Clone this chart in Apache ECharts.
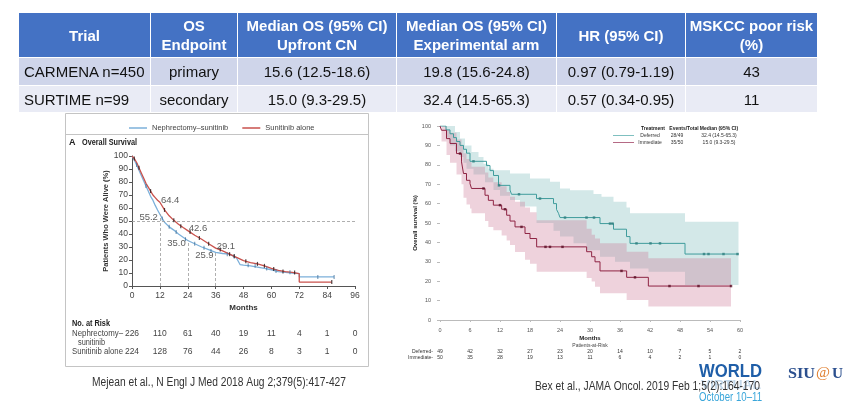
<!DOCTYPE html>
<html>
<head>
<meta charset="utf-8">
<script src="https://cdn.jsdelivr.net/npm/echarts@6/dist/echarts.min.js"></script>
<style>
  html, body { margin: 0; padding: 0; background: #fff; }
  #chart { position: absolute; left: 0; top: 0; width: 864px; height: 410px; }
  #tbl { position: absolute; left: 18px; top: 12px; border-collapse: collapse; table-layout: fixed;
         font-family: "Liberation Sans", Arial, sans-serif; font-size: 15px; color: #111; }
  #tbl th { background: #4472c4; color: #fff; font-weight: bold; height: 44px; line-height: 19px;
            border: 1px solid #fff; padding: 0; white-space: nowrap; }
  #tbl td { text-align: center; border: 1px solid #fff; height: 27px; padding: 0; white-space: nowrap; }
  #tbl td:first-child { text-align: left; padding-left: 5px; }
  #tbl tr.r1 td { background: #cfd5ea; }
  #tbl tr.r2 td { background: #e9ebf5; height: 26px; }
</style>
</head>
<body>
<div id="chart"></div>
<table id="tbl"></table>
<script>
// ---- table ----
const colWidths = [132, 87, 159, 160, 129, 132];
const tableHeader = [["Trial"], ["OS", "Endpoint"], ["Median OS (95% CI)", "Upfront CN"],
  ["Median OS (95% CI)", "Experimental arm"], ["HR (95% CI)"], ["MSKCC poor risk", "(%)"]];
const tableRows = [
  ["CARMENA n=450", "primary", "15.6 (12.5-18.6)", "19.8 (15.6-24.8)", "0.97 (0.79-1.19)", "43"],
  ["SURTIME n=99", "secondary", "15.0 (9.3-29.5)", "32.4 (14.5-65.3)", "0.57 (0.34-0.95)", "11"]
];

// ---- CARMENA (left) ----
const carmenaNephMonths = [0,1,2,3,4,5,6,7,8,9,10,11,12,14,16,18,20,22,24,27,30,33,36,39,42,45,46.5,48,51,54,57,60,63,66,69,72,72,87];
const carmenaNephSurv   = [100,97,93,89,85,81,77,73,69,66,62,58.5,55.2,49,45.5,43,40,37.5,35,32.5,30,28,25.9,25,24.5,21.5,16.5,16,15.5,14.5,13.5,12.5,11,10.5,10,9.5,7,7];
const carmenaSuniMonths = [0,1,2,3,4,5,6,7,8,9,10,11,12,14,16,18,20,22,24,27,30,33,36,39,42,45,48,51,54,57,60,63,66,69,72,72,86];
const carmenaSuniSurv   = [100,98,95,91,87,83,79,76,73,70,68,66,64.4,58.5,54,50.5,47.5,45,42.6,39,36,32.5,29.1,27,24.5,22,19.5,18,17,15.5,13.5,12,11,10.5,9.5,3,3];
const carmenaNephCensor = [[2,93],[6,77],[13,52],[16,45.5],[19,41.5],[23,36],[27,32.5],[31,29.5],[34,27],[41,24.5],[44,22.5],[50,16],[53,15.5],[58,13.5],[62,11.5],[68,10.5],[80,7],[87,7]];
const carmenaSuniCensor = [[1,98],[3,91],[8,73],[14,58.5],[18,50.5],[21,46],[25,41.5],[29,37],[33,32.5],[38,28],[42,24.5],[44,23],[49,19],[54,17],[57,15.5],[61,13],[65,11.2],[70,10.3],[86,3]];
const landmarkMonths = [12, 24, 36];
const landmarkNeph = [55.2, 35.0, 25.9];
const landmarkSuni = [64.4, 42.6, 29.1];
const carmenaRiskMonths = [0,12,24,36,48,60,72,84,96];
const carmenaRiskNeph = [226,110,61,40,19,11,4,1,0];
const carmenaRiskSuni = [224,128,76,44,26,8,3,1,0];

// ---- SURTIME (right) ----
const defMonths = [0,1.2,2,2.7,3.3,4,4.7,5.3,6,9.3,10,10.7,11.7,14,14.3,19.3,22.7,23.3,23.7,24,32,34.7,37.3,38,49,59.7];
const defSurv   = [100,98,96,94,92,90,88,86,81.8,79.6,77,74.5,69.4,67,64.8,62.6,60,57,55,52.8,49.7,46.8,43,39.5,34,34];
const immMonths = [0,0.3,1.3,2,3.3,4.3,4.7,5.3,6,6.3,9,9.67,10.67,12.33,13.33,14,15,17,18,19.33,29.33,30.33,31,32,37.33,41.67,58.2];
const immSurv   = [100,97.8,93.5,91,85.8,81.5,75.5,72,70.3,67.8,64.3,61.7,59.2,57.1,54,51,48,44.6,42,37.7,35.2,32.6,30,25.3,22,17.5,17.5];
const defBandUpperMonths = [0,3,4,5,6.3,7.7,8.7,9.7,10.7,14,18,22,24,26,30.7,32.3,34.7,37.3,38,49,59.7];
const defBandUpper       = [100,96.9,93.5,90,86.6,84,80.6,78,77.2,75.5,72.9,71.2,67.8,66.9,65,63.5,61,58,55,50.6,50.6];
const defBandLowerMonths = [0,1.2,2,3,4,4.7,5.3,6.7,9,10.7,12,14,16,19.3,22.7,24,26.7,29.3,32,35,38,41.7,49,59.7];
const defBandLower       = [100,94,90,87,84,81,78,75,71,67,64,61.8,58.5,50,46,43,39.5,36,32.6,30,26.6,24.9,18,18];
const immBandMonths = [0,0.3,1.3,2,3.3,4.3,4.7,5.3,6,6.3,9,9.67,10.67,12.33,13.33,14,15,17,18,19.33,29.33,30.33,31,32,37.33,41.67,58.2];
const immBandUpper  = [100,100,98,96.5,93,90,86,83,81.5,79,76,73.5,71,69,66,63.5,61,58,55.5,51.4,47,44,42,39.5,35.2,31.8,31.8];
const immBandLower  = [100,92,85,81,75,70,63,59.5,57.5,55,51,48,46.3,43.5,41,38.6,35,31,29,24.9,21.6,19.8,17.2,13.8,10.3,6.9,6.9];
const defCensor = [[6.7,81.8],[11.8,69.4],[15.8,64.8],[20,62.6],[25,52.8],[29.3,52.8],[30.8,52.8],[34,49.7],[34.5,49.7],[39.3,39.5],[42.1,39.5],[44,39.5],[52.8,34],[53.7,34],[56.7,34],[59.5,34]];
const immCensor = [[4,85.8],[8.7,67.8],[12,59.2],[13,57.1],[16.3,48],[21.1,37.7],[22,37.7],[24.5,37.7],[36.3,25.3],[39,22],[45.9,17.5],[51.7,17.5],[58.2,17.5]];
const surtimeRiskMonths = [0,6,12,18,24,30,36,42,48,54,60];
const surtimeRiskDef = [49,42,32,27,23,20,14,10,7,5,2];
const surtimeRiskImm = [50,35,28,19,13,11,6,4,2,1,0];

// build table
const tbl = document.getElementById('tbl');
let html = '<colgroup>' + colWidths.map(w => `<col style="width:${w}px">`).join('') + '</colgroup><tr>';
html += tableHeader.map(lines => `<th>${lines.join('<br>')}</th>`).join('') + '</tr>';
tableRows.forEach((row, i) => {
  html += `<tr class="r${i + 1}">` + row.map(c => `<td>${c}</td>`).join('') + '</tr>';
});
tbl.innerHTML = html;

const SANS = '"Liberation Sans", Arial, sans-serif';
const pairs = (xs, ys) => xs.map((x, i) => [x, ys[i]]);

const chart = echarts.init(document.getElementById('chart'), null, { renderer: 'canvas' });

function bandSeries(months, upper, lowerMonths, lower, color) {
  return {
    type: 'custom', xAxisIndex: 1, yAxisIndex: 1, silent: true, z: 1,
    data: [[0, 0]],
    renderItem: (params, api) => {
      const top = [], bot = [];
      months.forEach((m, i) => {
        const next = i + 1 < months.length ? months[i + 1] : m;
        top.push(api.coord([m, upper[i]]), api.coord([next, upper[i]]));
      });
      lowerMonths.forEach((m, i) => {
        const next = i + 1 < lowerMonths.length ? lowerMonths[i + 1] : m;
        bot.push(api.coord([m, lower[i]]), api.coord([next, lower[i]]));
      });
      return { type: 'polygon', shape: { points: top.concat(bot.reverse()) }, style: { fill: color } };
    }
  };
}

const dashed = { color: '#9a9a9a', type: [3, 2], width: 0.8 };

chart.setOption({
  animation: false,
  textStyle: { fontFamily: SANS },
  grid: [
    { left: 132, top: 156, width: 223, height: 130 },
    { left: 440, top: 126, width: 300, height: 194 }
  ],
  legend: {
    left: 124, top: 119, itemWidth: 18, itemHeight: 1.5, itemGap: 14, icon: 'rect',
    textStyle: { fontSize: 7.5, color: '#444', fontFamily: SANS },
    data: ['Nephrectomy–sunitinib', 'Sunitinib alone']
  },
  xAxis: [
    { gridIndex: 0, type: 'value', min: 0, max: 96, interval: 12,
      name: 'Months', nameLocation: 'middle', nameGap: 18,
      nameTextStyle: { fontWeight: 'bold', fontSize: 8, color: '#333' },
      axisLine: { lineStyle: { color: '#555' } }, axisTick: { length: 3, lineStyle: { color: '#555' } },
      axisLabel: { fontSize: 8.5, color: '#444', margin: 5 }, splitLine: { show: false } },
    { gridIndex: 1, type: 'value', min: 0, max: 60, interval: 6, offset: 2,
      name: 'Months', nameLocation: 'middle', nameGap: 13,
      nameTextStyle: { fontWeight: 'bold', fontSize: 6, color: '#222' },
      axisLine: { lineStyle: { color: '#bbb' } }, axisTick: { length: 2, lineStyle: { color: '#bbb' } },
      axisLabel: { fontSize: 5.5, color: '#555', margin: 5 }, splitLine: { show: false } }
  ],
  yAxis: [
    { gridIndex: 0, type: 'value', min: 0, max: 100, interval: 10,
      name: 'Patients Who Were Alive (%)', nameLocation: 'middle', nameGap: 22,
      nameTextStyle: { fontWeight: 'bold', fontSize: 7.5, color: '#333' },
      axisLine: { show: true, lineStyle: { color: '#555' } }, axisTick: { show: true, length: 3, lineStyle: { color: '#555' } },
      axisLabel: { fontSize: 8.5, color: '#444', margin: 4 }, splitLine: { show: false } },
    { gridIndex: 1, type: 'value', min: 0, max: 100, interval: 10, offset: 4,
      name: 'Overall survival (%)', nameLocation: 'middle', nameGap: 18,
      nameTextStyle: { fontWeight: 'bold', fontSize: 6, color: '#222' },
      axisLine: { show: false }, axisTick: { show: true, length: 3, lineStyle: { color: '#bbb' } },
      axisLabel: { fontSize: 5.5, color: '#555', margin: 5 }, splitLine: { show: false } }
  ],
  series: [
    { name: 'Nephrectomy–sunitinib', type: 'line', xAxisIndex: 0, yAxisIndex: 0, color: '#7cb0da',
      showSymbol: false, lineStyle: { width: 1.3 }, data: pairs(carmenaNephMonths, carmenaNephSurv), z: 3,
      markLine: {
        silent: true, symbol: 'none', label: { show: false }, lineStyle: dashed,
        data: [[{ coord: [0, 50] }, { coord: [96, 50] }]].concat(
          landmarkMonths.map((m, i) => [{ coord: [m, 0] }, { coord: [m, landmarkNeph[i]] }]))
      } },
    { name: 'Sunitinib alone', type: 'line', xAxisIndex: 0, yAxisIndex: 0, color: '#c9514c',
      showSymbol: false, lineStyle: { width: 1.3 }, data: pairs(carmenaSuniMonths, carmenaSuniSurv), z: 4 },
    { type: 'scatter', xAxisIndex: 0, yAxisIndex: 0, symbol: 'rect', symbolSize: [1, 4],
      itemStyle: { color: '#3d6f9a' }, data: carmenaNephCensor, z: 5 },
    { type: 'scatter', xAxisIndex: 0, yAxisIndex: 0, symbol: 'rect', symbolSize: [1.2, 4],
      itemStyle: { color: '#2a1a1a' }, data: carmenaSuniCensor, z: 5 },
    { type: 'scatter', xAxisIndex: 0, yAxisIndex: 0, symbolSize: 0, z: 6,
      data: pairs(landmarkMonths, landmarkNeph),
      label: { show: true, position: 'left', distance: 2, offset: [0, 3], fontSize: 9.5, color: '#333',
               formatter: p => p.value[1].toFixed(1) } },
    { type: 'scatter', xAxisIndex: 0, yAxisIndex: 0, symbolSize: 0, z: 6,
      data: pairs(landmarkMonths, landmarkSuni),
      label: { show: true, position: 'right', distance: 1, offset: [0, -2], fontSize: 9.5, color: '#333',
               formatter: p => p.value[1].toFixed(1) } },
    bandSeries(defBandUpperMonths, defBandUpper, defBandLowerMonths, defBandLower, 'rgba(110,180,180,0.30)'),
    bandSeries(immBandMonths, immBandUpper, immBandMonths, immBandLower, 'rgba(200,105,140,0.30)'),
    { type: 'line', step: 'end', xAxisIndex: 1, yAxisIndex: 1, color: '#3f9c9c', showSymbol: false,
      lineStyle: { width: 1 }, data: pairs(defMonths, defSurv), z: 3 },
    { type: 'line', step: 'end', xAxisIndex: 1, yAxisIndex: 1, color: '#8e2343', showSymbol: false,
      lineStyle: { width: 1 }, data: pairs(immMonths, immSurv), z: 3 },
    { type: 'scatter', xAxisIndex: 1, yAxisIndex: 1, symbol: 'rect', symbolSize: 2.5,
      itemStyle: { color: '#2f7f80' }, data: defCensor, z: 4 },
    { type: 'scatter', xAxisIndex: 1, yAxisIndex: 1, symbol: 'rect', symbolSize: 2.5,
      itemStyle: { color: '#5a0f25' }, data: immCensor, z: 4 }
  ]
});

// ---- annotations placed through the axes ----
const px = (g, x, y) => chart.convertToPixel({ gridIndex: g }, [x, y]);
const measure = document.createElement('canvas').getContext('2d');
// text element; when width is given the glyphs are squeezed horizontally to fit it (condensed look)
const txt = (text, x, y, font, fill, align, width, z) => {
  let sx = 1;
  if (width) { measure.font = font; sx = width / measure.measureText(text).width; }
  return {
    type: 'text', z: z || 10, silent: true, x, y, scaleX: sx,
    style: { text, x: 0, y: 0, font, fill, textAlign: align || 'left', textVerticalAlign: 'middle' }
  };
};
const ln = (x1, y1, x2, y2, stroke, w) => ({
  type: 'line', silent: true, shape: { x1, y1, x2, y2 }, style: { stroke, lineWidth: w || 1 }
});

const g = [];
// left panel frame
g.push({ type: 'rect', silent: true, shape: { x: 65.5, y: 113.5, width: 303, height: 253 },
         style: { fill: 'none', stroke: '#c4c4c4', lineWidth: 1 } });
g.push(ln(66, 134.5, 368, 134.5, '#c4c4c4'));
g.push(txt('A', 69, 143, 'bold 9px ' + SANS, '#222'));
g.push(txt('Overall Survival', 82, 143, 'bold 9px ' + SANS, '#222', 'left', 55));
g.push(txt('No. at Risk', 72, 324, 'bold 8.5px ' + SANS, '#222', 'left', 38));
g.push(txt('Nephrectomy–', 72, 334, '8.5px ' + SANS, '#444', 'left', 51));
g.push(txt('sunitinib', 78, 343, '8.5px ' + SANS, '#444', 'left', 27));
g.push(txt('Sunitinib alone', 72, 352, '8.5px ' + SANS, '#444', 'left', 51));
carmenaRiskMonths.forEach((m, i) => {
  const x = px(0, m, 0)[0];
  g.push(txt(String(carmenaRiskNeph[i]), x, 334, '8.5px ' + SANS, '#444', 'center'));
  g.push(txt(String(carmenaRiskSuni[i]), x, 352, '8.5px ' + SANS, '#444', 'center'));
});
g.push(txt('Mejean et al., N Engl J Med 2018 Aug 2;379(5):417-427', 219, 383, '12.5px ' + SANS, '#333', 'center', 254));

// right panel legend
const R = '5px ' + SANS, RB = 'bold 5px ' + SANS;
g.push(txt('Treatment', 653, 129, RB, '#222', 'center'));
g.push(txt('Events/Total', 684, 129, RB, '#222', 'center'));
g.push(txt('Median (95% CI)', 719, 129, RB, '#222', 'center'));
g.push(ln(613, 135.5, 634, 135.5, '#7fc0c0', 1));
g.push(ln(613, 142.5, 634, 142.5, '#b56a85', 1));
g.push(txt('Deferred', 650, 135.5, R, '#333', 'center'));
g.push(txt('28/49', 677, 135.5, R, '#333', 'center'));
g.push(txt('32.4 (14.5-65.3)', 719, 135.5, R, '#333', 'center'));
g.push(txt('Immediate', 650, 142.5, R, '#333', 'center'));
g.push(txt('35/50', 677, 142.5, R, '#333', 'center'));
g.push(txt('15.0 (9.3-29.5)', 719, 142.5, R, '#333', 'center'));
// right panel risk table
g.push(txt('Patients-at-Risk', px(1, 30, 0)[0], 346, R, '#444', 'center'));
g.push(txt('Deferred-', 433, 352, R, '#333', 'right'));
g.push(txt('Immediate-', 433, 358, R, '#333', 'right'));
surtimeRiskMonths.forEach((m, i) => {
  const x = px(1, m, 0)[0];
  g.push(txt(String(surtimeRiskDef[i]), x, 352, R, '#333', 'center'));
  g.push(txt(String(surtimeRiskImm[i]), x, 358, R, '#333', 'center'));
});

// logos
g.push(txt('WORLD', 699, 372, 'bold 19px ' + SANS, '#1f5ea8', 'left', 63, 8));
g.push(txt('VIRTUAL', 701, 386, 'bold 12px ' + SANS, '#c4d9ea', 'left', 60, 8));
g.push(txt('October 10–11', 699, 398, '12px ' + SANS, '#3aa6da', 'left', 63, 8));
g.push(txt('SIU', 788, 374, 'bold 15px "Liberation Serif", serif', '#2b4f8e', 'left', 27, 8));
g.push(txt('@', 816, 373, '15px "Liberation Serif", serif', '#e07d2c', 'left', 14, 8));
g.push(txt('U', 832, 374, 'bold 15px "Liberation Serif", serif', '#2b4f8e', 'left', 11, 8));
g.push(txt('Bex et al., JAMA Oncol. 2019 Feb 1;5(2):164-170', 535, 386, '13px ' + SANS, '#333', 'left', 225, 12));

chart.setOption({ graphic: g });
</script>
</body>
</html>
